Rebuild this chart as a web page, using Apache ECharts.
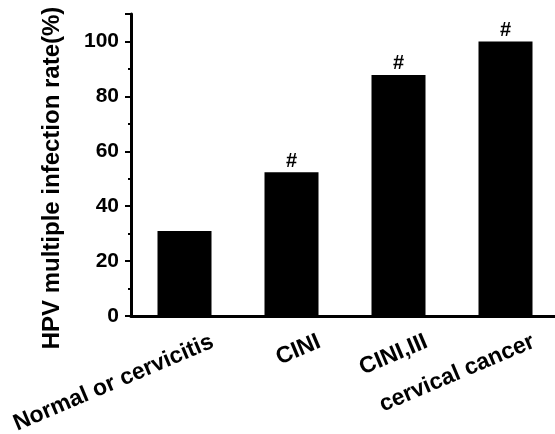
<!DOCTYPE html>
<html>
<head>
<meta charset="utf-8">
<script src="https://cdn.jsdelivr.net/npm/echarts@6/dist/echarts.min.js"></script>
<style>
    html, body { margin: 0; padding: 0; background: #fff; }
    #chart { width: 555px; height: 434px; }
</style>
</head>
<body>
<div id="chart"></div>
<script>
const categories = ['Normal or cervicitis', 'CINI', 'CINI,III', 'cervical cancer'];
const rates = [31, 52.4, 87.8, 100];
const marks = ['', '#', '#', '#'];
const yMin = 0;
const yMax = 110;
const yStep = 20;

const font = 'Liberation Sans, Arial, sans-serif';
const chart = echarts.init(document.getElementById('chart'));

// grid 0 holds the bars, grid 1 only carries the shifted, rotated category labels
const option = {
    animation: false,
    grid: [
        { left: 131, top: 14, width: 428, bottom: 118, containLabel: false, outerBoundsMode: 'none' },
        { left: 159, top: 14, width: 428, bottom: 118, containLabel: false, outerBoundsMode: 'none' }
    ],
    xAxis: [
        {
            type: 'category',
            gridIndex: 0,
            position: 'bottom',
            data: categories,
            axisLine: { lineStyle: { color: '#000', width: 3 } },
            axisTick: { alignWithLabel: true, length: 5, lineStyle: { color: '#000', width: 2 } },
            axisLabel: { show: false },
            splitLine: { show: false }
        },
        {
            // short ticks on category boundaries
            type: 'category',
            gridIndex: 0,
            position: 'bottom',
            data: categories,
            axisLine: { show: false },
            axisTick: { alignWithLabel: false, length: 2, lineStyle: { color: '#000', width: 2 } },
            axisLabel: { show: false },
            splitLine: { show: false }
        },
        {
            type: 'category',
            gridIndex: 1,
            position: 'bottom',
            data: categories,
            axisLine: { show: false },
            axisTick: { show: false },
            axisLabel: {
                rotate: 23,
                margin: 25,
                interval: 0,
                color: '#000',
                fontFamily: font,
                fontWeight: 'bold',
                fontSize: 23
            },
            splitLine: { show: false }
        }
    ],
    yAxis: [
        {
            type: 'value',
            gridIndex: 0,
            min: yMin,
            max: yMax,
            interval: yStep,
            name: 'HPV multiple infection rate(%)',
            nameLocation: 'middle',
            nameGap: 67,
            nameTextStyle: {
                color: '#000',
                fontFamily: font,
                fontWeight: 'bold',
                fontSize: 24,
                padding: [0, 26, 0, 0]
            },
            axisLine: { show: true, lineStyle: { color: '#000', width: 3 } },
            axisTick: { show: true, length: 6, lineStyle: { color: '#000', width: 2 } },
            minorTick: { show: true, splitNumber: 2, length: 3, lineStyle: { color: '#000', width: 2 } },
            axisLabel: {
                showMaxLabel: false,
                margin: 12,
                color: '#000',
                fontFamily: font,
                fontWeight: 'bold',
                fontSize: 21
            },
            splitLine: { show: false }
        },
        {
            type: 'value',
            gridIndex: 1,
            show: false
        }
    ],
    series: [
        {
            type: 'bar',
            xAxisIndex: 0,
            yAxisIndex: 0,
            data: rates,
            barWidth: 54,
            itemStyle: { color: '#000' },
            label: {
                show: true,
                position: 'top',
                distance: 1,
                color: '#000',
                fontFamily: font,
                fontWeight: 'bold',
                fontSize: 20,
                formatter: p => marks[p.dataIndex]
            }
        }
    ]
};

chart.setOption(option);
</script>
</body>
</html>
